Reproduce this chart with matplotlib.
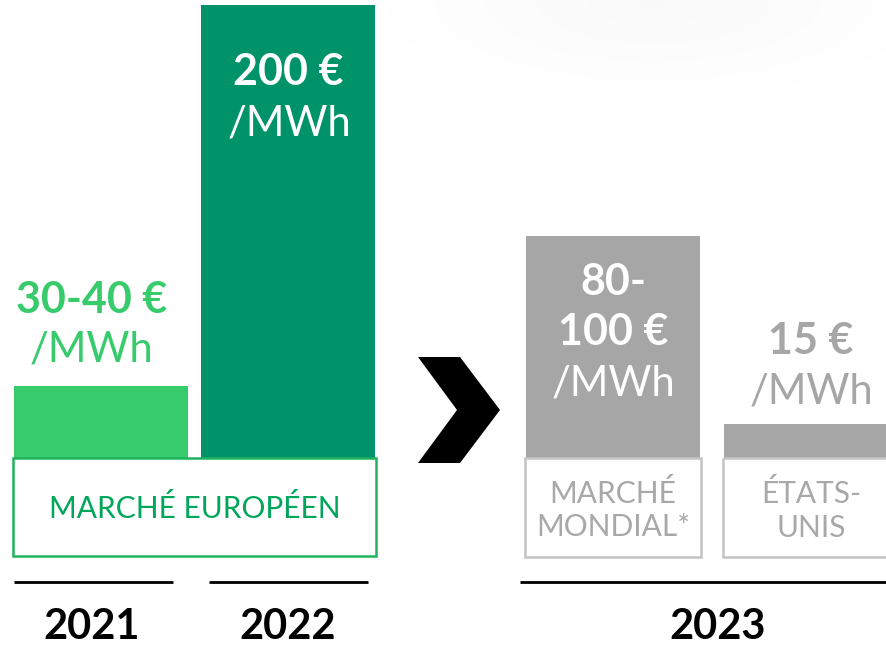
import numpy as np
import matplotlib.pyplot as plt
from matplotlib.patches import Rectangle, Polygon

# %% Data.
markets = ['2021', '2022', 'MARCHÉ MONDIAL*', 'ÉTATS-UNIS']
values = [32, 200, 98, 15]                    # bar heights, €/MWh
value_labels = ['30-40 €', '200 €', '80-\n100 €', '15 €']
years = ['2021', '2022', '2023']

FONT = ['Lato', 'DejaVu Sans']
light_green = '#37CB6C'
dark_green = '#00936A'
grey = '#A6A6A6'

W, H = 887, 645
fig = plt.figure(figsize=(W / 100, H / 100), dpi=100)

# %% Background with the faint shading at the top right.
bg = fig.add_axes([0, 0, 1, 1], zorder=0)
bg.set_xlim(0, W)
bg.set_ylim(H, 0)
bg.axis('off')
gx, gy = np.meshgrid(np.linspace(-1, 1, 200), np.linspace(0, 1, 60))
shade = np.clip(1 - np.sqrt(gx ** 2 + (gy * 1.4) ** 2), 0, 1)
bg.imshow(shade, extent=(360, W + 60, 150, 0), cmap='Greys', vmin=0, vmax=22,
          aspect='auto', interpolation='bilinear')

# %% Bars on a value scale.
base_px, top_px = 458, 5
ax = fig.add_axes([0, (H - base_px) / H, 1, (base_px - top_px) / H], zorder=1)
ax.patch.set_alpha(0)
ax.set_xlim(0, W)
ax.set_ylim(0, 200)
ax.axis('off')
centers = [101, 288, 613, 811]
colors = [light_green, dark_green, grey, grey]
ax.bar(centers, values, width=174, color=colors, clip_on=False)

# %% Overlay: boxes, chevron, labels.
ov = fig.add_axes([0, 0, 1, 1], zorder=2)
ov.patch.set_alpha(0)
ov.set_xlim(0, W)
ov.set_ylim(H, 0)
ov.axis('off')

ov.add_patch(Rectangle((13, 458), 363, 98, fill=False, ec='#1FB35E', lw=1.8))
ov.add_patch(Rectangle((525, 458), 176, 99, fill=False, ec='#C4C4C4', lw=1.8))
ov.add_patch(Rectangle((723, 458), 180, 99, fill=False, ec='#C4C4C4', lw=1.8,
                       clip_on=True))

ov.add_patch(Polygon([(418, 357), (460, 357), (500, 410), (460, 463),
                      (418, 463), (457, 410)], closed=True, fc='black', ec='none'))

bold = 31
reg = 30
# 2021
ov.text(92, 313, value_labels[0], ha='center', va='baseline', fontsize=bold,
        fontweight='bold', color=light_green, family=FONT)
ov.text(91, 362, '/MWh', ha='center', va='baseline', fontsize=reg,
        color=light_green, family=FONT)
# 2022
ov.text(288, 85, value_labels[1], ha='center', va='baseline', fontsize=bold,
        fontweight='bold', color='white', family=FONT)
ov.text(289, 135, '/MWh', ha='center', va='baseline', fontsize=reg,
        color='white', family=FONT)
# world market
l1, l2 = value_labels[2].split('\n')
ov.text(613, 295, l1, ha='center', va='baseline', fontsize=bold,
        fontweight='bold', color='white', family=FONT)
ov.text(613, 345, l2, ha='center', va='baseline', fontsize=bold,
        fontweight='bold', color='white', family=FONT)
ov.text(613, 396, '/MWh', ha='center', va='baseline', fontsize=reg,
        color='white', family=FONT)
# united states
ov.text(811, 354, value_labels[3], ha='center', va='baseline', fontsize=bold,
        fontweight='bold', color=grey, family=FONT)
ov.text(811, 404, '/MWh', ha='center', va='baseline', fontsize=reg,
        color=grey, family=FONT)

# box captions
cap = 21.5
ov.text(195, 518, 'MARCHÉ EUROPÉEN', ha='center', va='baseline', fontsize=cap,
        color='#00A65A', family=FONT)
ov.text(613, 503, 'MARCHÉ', ha='center', va='baseline', fontsize=cap,
        color='#A8A8A8', family=FONT)
ov.text(613, 536, 'MONDIAL*', ha='center', va='baseline', fontsize=cap,
        color='#A8A8A8', family=FONT)
ov.text(811, 503, 'ÉTATS-', ha='center', va='baseline', fontsize=cap,
        color='#A8A8A8', family=FONT)
ov.text(811, 537, 'UNIS', ha='center', va='baseline', fontsize=cap,
        color='#A8A8A8', family=FONT)

# year rules and labels
for (x0, x1), year, xc in zip([(14, 173), (209, 368), (520, W)], years,
                              [92, 288, 718]):
    ov.plot([x0, x1], [582, 582], color='black', lw=2, solid_capstyle='butt')
    ov.text(xc, 639, year, ha='center', va='baseline', fontsize=30,
            fontweight='bold', color='black', family=FONT)

fig.savefig('out.png', dpi=100, facecolor='white')
